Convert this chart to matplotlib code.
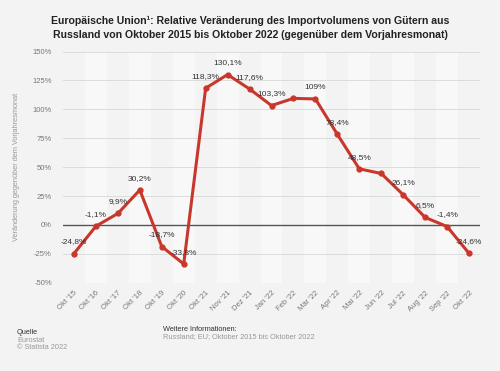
import numpy as np
import matplotlib
matplotlib.use("Agg")
import matplotlib.pyplot as plt

plt.rcParams['font.family'] = ['Liberation Sans', 'DejaVu Sans']

# data
months = ["Okt '15", "Okt '16", "Okt '17", "Okt '18", "Okt '19", "Okt '20",
          "Okt '21", "Nov '21", "Dez '21", "Jan '22", "Feb '22", "Mär '22",
          "Apr '22", "Mai '22", "Jun '22", "Jul '22", "Aug '22", "Sep '22", "Okt '22"]
values = [-24.8, -1.1, 9.9, 30.2, -18.7, -33.8,
          118.3, 130.1, 117.6, 103.3, 109.5, 109.0,
          78.4, 48.5, 44.5, 26.1, 6.5, -1.4, -24.6]
labels = ["-24,8%", "-1,1%", "9,9%", "30,2%", "-18,7%", "-33,8%",
          "118,3%", "130,1%", "117,6%", "103,3%", "", "109%",
          "78,4%", "48,5%", "", "26,1%", "6,5%", "-1,4%", "-24,6%"]
yticks = [-50, -25, 0, 25, 50, 75, 100, 125, 150]

bg = '#f3f3f3'
red = '#c9372c'

fig = plt.figure(figsize=(5.0, 3.71), dpi=100, facecolor=bg)
ax = fig.add_axes([0.126, 0.238, 0.834, 0.623])
ax.set_facecolor(bg)

x = np.arange(len(months))

# alternating column bands
for i in x:
    if i % 2 == 1:
        ax.axvspan(i - 0.5, i + 0.5, color='#f8f8f8', lw=0, zorder=0)

ax.set_yticks(yticks)
ax.set_yticklabels([f"{t}%" for t in yticks])
ax.grid(axis='y', color='#dcdcdc', lw=0.7, zorder=1)
ax.axhline(0, color='#555555', lw=1.0, zorder=2)

ax.plot(x, values, color=red, lw=2.2, marker='o', ms=3.5, zorder=3,
        solid_joinstyle='round')

for xi, v, lab in zip(x, values, labels):
    if lab:
        ax.annotate(lab, (xi, v), xytext=(0, 8.5), textcoords='offset points',
                    ha='center', va='center', fontsize=6, color='#333333',
                    zorder=4)

ax.set_xlim(-0.5, len(months) - 0.5)
ax.set_ylim(-50, 150)
ax.set_xticks(x)
ax.set_xticklabels(months, rotation=45, ha='right', rotation_mode='anchor')
ax.tick_params(axis='both', length=0, labelsize=5.5, labelcolor='#777777')
ax.tick_params(axis='y', pad=8)
ax.tick_params(axis='x', pad=5)
for s in ax.spines.values():
    s.set_visible(False)

ax.set_ylabel("Veränderung gegenüber dem Vorjahresmonat", fontsize=5.3,
              color='#999999', labelpad=9)

fig.text(0.5, 0.957, "Europäische Union¹: Relative Veränderung des Importvolumens von Gütern aus\n"
         "Russland von Oktober 2015 bis Oktober 2022 (gegenüber dem Vorjahresmonat)",
         ha='center', va='top', fontsize=7.6, fontweight='bold', color='#222222',
         linespacing=1.45)

fig.text(0.034, 0.105, "Quelle", fontsize=5.3, color='#333333', va='center')
fig.text(0.034, 0.083, "Eurostat", fontsize=5.3, color='#999999', va='center')
fig.text(0.034, 0.062, "© Statista 2022", fontsize=5.3, color='#999999', va='center')
fig.text(0.326, 0.113, "Weitere Informationen:", fontsize=5.3, color='#333333', va='center')
fig.text(0.326, 0.092, "Russland; EU; Oktober 2015 bis Oktober 2022", fontsize=5.3,
         color='#999999', va='center')

fig.savefig("out.png", dpi=100, facecolor=bg)
